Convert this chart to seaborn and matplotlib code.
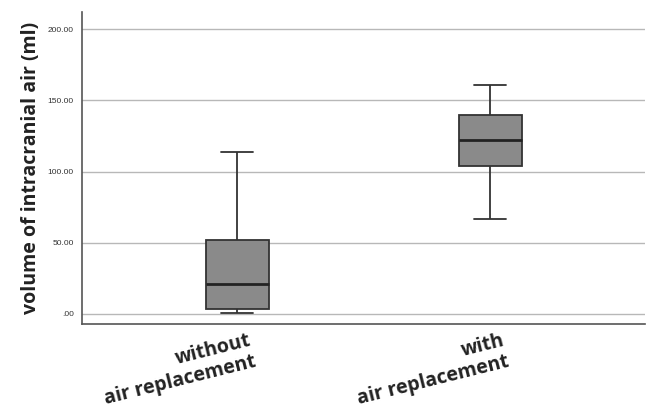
import matplotlib
matplotlib.use("Agg")
import matplotlib.pyplot as plt
import matplotlib.transforms as mtrans
import seaborn as sns
import pandas as pd
from matplotlib.ticker import FuncFormatter

# five-number summaries (min, Q1, median, Q3, max)
groups = ["without\nair replacement", "with\nair replacement"]
without_vals = [0.5, 3.5, 21.0, 52.0, 113.5]
with_vals = [66.5, 104.0, 122.0, 140.0, 161.0]
y_ticks = [0, 50, 100, 150, 200]

df = pd.DataFrame({
    "group": [groups[0]] * len(without_vals) + [groups[1]] * len(with_vals),
    "volume": without_vals + with_vals,
})

sns.set_style("white")
fig = plt.figure(figsize=(6.47, 4.18), dpi=100)
ax = fig.add_axes([0.127, 0.225, 0.870, 0.746])

for y in y_ticks:
    ax.axhline(y, color="#b8b8b8", lw=1.0, zorder=0)

sns.boxplot(data=df, x="group", y="volume", order=groups, ax=ax, width=0.25,
            whis=1.5, color="#8a8a8a", saturation=1, linewidth=1.3, linecolor="#333333",
            medianprops=dict(color="#222222", lw=2.0),
            boxprops=dict(facecolor="#8a8a8a", edgecolor="#333333"))

ax.set_xlim(-0.613, 1.612)
ax.set_ylim(-7, 212)
ax.set_yticks(y_ticks)
ax.yaxis.set_major_formatter(FuncFormatter(lambda v, p: ".00" if v == 0 else f"{v:.2f}"))
ax.tick_params(axis="y", length=0, pad=6, labelsize=6)
ax.tick_params(axis="x", length=0, pad=5)
for lab in ax.get_yticklabels():
    lab.set_fontfamily("Liberation Sans")
    lab.set_color("#333333")

ax.set_xlabel("")
ax.set_ylabel("volume of intracranial air (ml)", fontsize=14, fontweight="bold",
              family="Open Sans", color="#222222", labelpad=5)
ax.set_xticks([0, 1])
ax.set_xticklabels(groups, rotation=14, ha="right", rotation_mode="anchor",
                   multialignment="right", fontsize=14, fontweight="bold",
                   family="Open Sans", color="#222222", linespacing=1.1)

for s in ["top", "right"]:
    ax.spines[s].set_visible(False)
for s in ["left", "bottom"]:
    ax.spines[s].set_color("#555555")
    ax.spines[s].set_linewidth(1.2)

offset = mtrans.ScaledTranslation(8/72, 0, fig.dpi_scale_trans)
for lab in ax.get_xticklabels():
    lab.set_transform(lab.get_transform() + offset)

fig.savefig("out.png", dpi=100)
